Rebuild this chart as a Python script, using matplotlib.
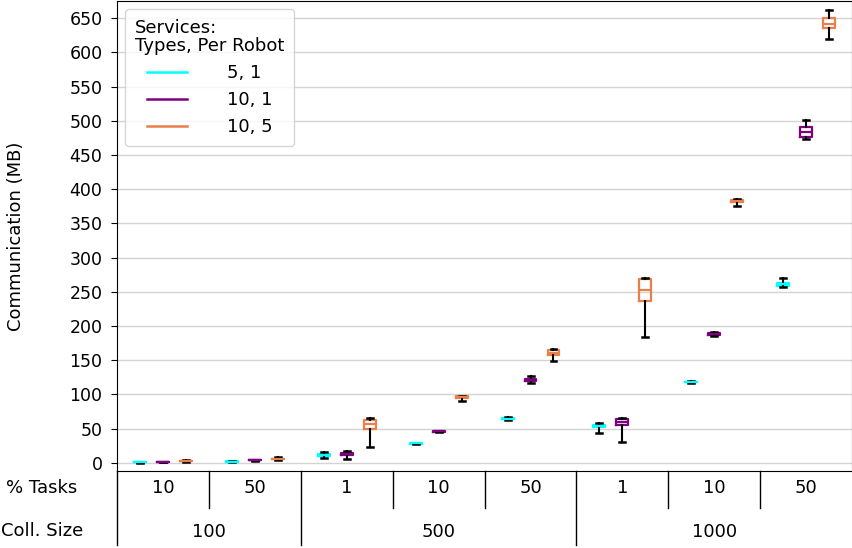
import matplotlib
matplotlib.use("Agg")
import matplotlib.pyplot as plt
from matplotlib.lines import Line2D
import matplotlib.transforms as mtransforms

plt.rcParams["font.size"] = 13

# x-axis grouping
pct_tasks = ["10", "50", "1", "10", "50", "1", "10", "50"]
coll_sizes = ["100", "500", "1000"]
coll_spans = [2, 3, 3]

series_labels = ["5, 1", "10, 1", "10, 5"]
series_colors = ["cyan", "purple", "#e97f4a"]

# box stats per group: whisker low, q1, median, q3, whisker high
whislo_51 = [0.3, 1.0, 7.0, 27.0, 62.5, 44.0, 117.0, 257.0]
q1_51 = [0.5, 1.3, 10.5, 28.0, 63.5, 53.0, 117.5, 259.0]
med_51 = [0.7, 1.6, 12.0, 28.5, 64.5, 54.5, 118.0, 261.0]
q3_51 = [0.9, 1.9, 13.5, 29.0, 65.5, 55.5, 118.5, 263.0]
whishi_51 = [1.1, 2.2, 16.5, 29.5, 66.5, 58.0, 119.0, 270.0]

whislo_101 = [0.5, 3.2, 5.0, 45.0, 116.0, 30.0, 185.0, 473.0]
q1_101 = [0.7, 3.6, 12.0, 45.5, 119.5, 55.5, 187.0, 476.0]
med_101 = [0.9, 4.0, 13.5, 46.0, 121.0, 60.0, 188.5, 483.5]
q3_101 = [1.1, 4.4, 15.0, 46.5, 122.5, 64.0, 190.0, 491.0]
whishi_101 = [1.3, 4.8, 17.5, 47.0, 127.0, 66.0, 191.0, 501.0]

whislo_105 = [1.5, 4.5, 22.5, 90.0, 149.0, 183.5, 376.0, 620.0]
q1_105 = [2.0, 5.0, 50.0, 94.0, 157.0, 236.0, 381.0, 635.5]
med_105 = [2.5, 5.5, 56.0, 95.5, 161.0, 253.0, 383.0, 641.0]
q3_105 = [3.0, 6.0, 62.0, 97.0, 164.5, 268.0, 384.5, 650.0]
whishi_105 = [3.5, 8.0, 66.0, 98.0, 166.5, 270.0, 385.5, 662.5]

series = [
    (whislo_51, q1_51, med_51, q3_51, whishi_51),
    (whislo_101, q1_101, med_101, q3_101, whishi_101),
    (whislo_105, q1_105, med_105, q3_105, whishi_105),
]

fig = plt.figure(figsize=(8.53, 5.48), dpi=100)
ax = fig.add_axes([117 / 853, 1 - 471 / 548, 1 - 117 / 853 - 0.001, 470 / 548])

n_groups = len(pct_tasks)
offsets = [0.25, 0.5, 0.75]
for s, (lo, q1, med, q3, hi) in enumerate(series):
    stats = []
    for g in range(n_groups):
        stats.append(dict(whislo=lo[g], q1=q1[g], med=med[g], q3=q3[g], whishi=hi[g], fliers=[]))
    c = series_colors[s]
    ax.bxp(stats, positions=[g + offsets[s] for g in range(n_groups)], widths=0.13,
           showfliers=False, manage_ticks=False,
           boxprops=dict(color=c, linewidth=1.6),
           medianprops=dict(color=c, linewidth=1.6),
           whiskerprops=dict(color="black", linewidth=1.5),
           capprops=dict(color="black", linewidth=1.8))

ax.set_xlim(0, n_groups)
ax.set_ylim(-12, 675)
ax.set_yticks(range(0, 651, 50))
ax.tick_params(axis="y", labelsize=12.5, length=4.5, pad=6)
ax.set_xticks([])
ax.grid(axis="y", color="lightgray", linewidth=1)
ax.set_axisbelow(True)
ax.set_ylabel("Communication (MB)")
ax.yaxis.set_label_coords(-0.125, 0.5)

# group labels under the axis
trans = mtransforms.blended_transform_factory(ax.transData, ax.transAxes)
for g, lab in enumerate(pct_tasks):
    ax.text(g + 0.5, -0.036, lab, transform=trans, ha="center", va="center")
bounds = [0]
for span in coll_spans:
    bounds.append(bounds[-1] + span)
for i, lab in enumerate(coll_sizes):
    ax.text((bounds[i] + bounds[i + 1]) / 2, -0.13, lab, transform=trans,
            ha="center", va="center")
for g in range(1, n_groups):
    y_end = -0.157 if g in bounds else -0.079
    ax.plot([g, g], [0, y_end], transform=trans, color="black", linewidth=1, clip_on=False)
ax.plot([0, 0], [0, -0.157], transform=trans, color="black", linewidth=1, clip_on=False)

fig.text(42 / 853, 1 - 488 / 548, "% Tasks", ha="center", va="center")
fig.text(42 / 853, 1 - 531 / 548, "Coll. Size", ha="center", va="center")

handles = [Line2D([], [], color=c, linewidth=1.8) for c in series_colors]
leg = ax.legend(handles, series_labels, title="Services:\nTypes, Per Robot", loc="upper left",
                handlelength=2.2, handletextpad=2.2, borderaxespad=0.45, borderpad=0.55)
leg.get_title().set_linespacing(1.0)

fig.savefig("out.png", dpi=100)
